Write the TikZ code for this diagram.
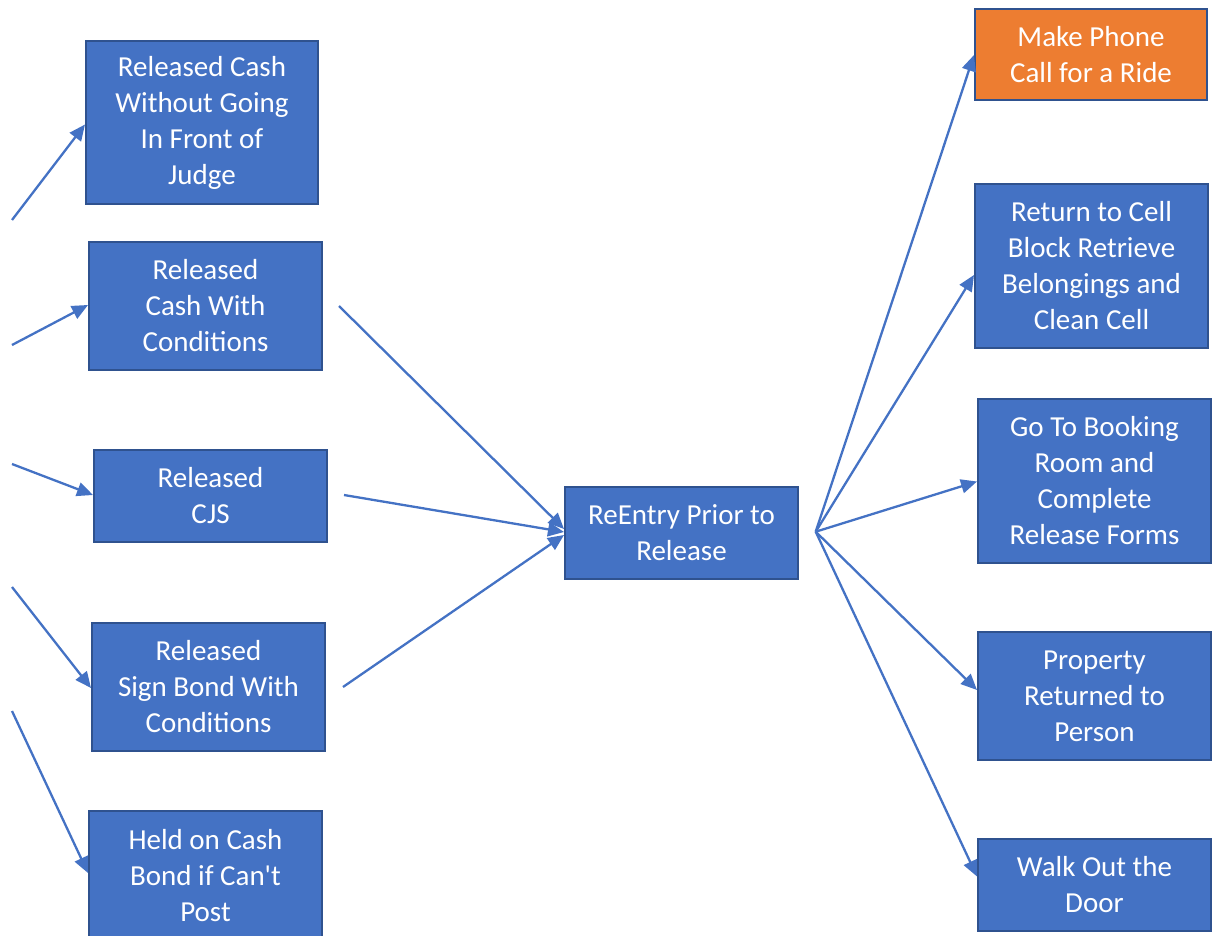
\documentclass[tikz,border=0pt]{standalone}
\usepackage{fontspec}
\setmainfont{Carlito}
\newfontfamily\rawfont{Carlito}
\usetikzlibrary{arrows.meta,calc}
\definecolor{boxblue}{HTML}{4472C4}
\definecolor{boxedge}{HTML}{2F528F}
\definecolor{boxorange}{HTML}{ED7D31}
\begin{document}
\begin{tikzpicture}[x=1pt,y=-1pt,
  box/.style={draw=boxedge, line width=2pt, fill=boxblue, text=white, inner sep=0pt,
    align=center, font=\fontsize{29}{36}\selectfont},
  obox/.style={box, fill=boxorange},
  conn/.style={draw=boxblue, line width=2.3pt, -{Triangle[length=16pt,width=14pt]}}]
\useasboundingbox (0,0) rectangle (1215,936);
% left column
\node[box, minimum width=232pt, minimum height=163pt] (b1) at (202,123) {Released Cash\\Without Going\\In Front of\\Judge};
\node[box, minimum width=233pt, minimum height=128pt] (b2) at (205.5,306) {Released\\Cash With\\Conditions};
\node[box, minimum width=233pt, minimum height=92pt] (b3) at (210.5,496) {Released\\CJS};
\node[box, minimum width=233pt, minimum height=128pt] (b4) at (208.5,687) {Released\\Sign Bond With\\Conditions};
\node[box, minimum width=233pt, minimum height=130pt] (b5) at (205.5,876) {Held on Cash\\Bond if Can{\rawfont\fontsize{29}{36}\selectfont '}t\\Post};
% centre
\node[box, minimum width=233pt, minimum height=92pt] (re) at (681.5,533) {ReEntry Prior to\\Release};
% right column
\node[obox, minimum width=232pt, minimum height=91pt] (r1) at (1091,54.5) {Make Phone\\Call for a Ride};
\node[box, minimum width=233pt, minimum height=164pt] (r2) at (1091.5,266) {Return to Cell\\Block Retrieve\\Belongings and\\Clean Cell};
\node[box, minimum width=233pt, minimum height=164pt] (r3) at (1094.5,481) {Go To Booking\\Room and\\Complete\\Release Forms};
\node[box, minimum width=233pt, minimum height=128pt] (r4) at (1094.5,696) {Property\\Returned to\\Person};
\node[box, minimum width=233pt, minimum height=92pt] (r5) at (1094.5,884.5) {Walk Out the\\Door};
% free ends
\coordinate (s1) at (12,220);
\coordinate (s2) at (12,345);
\coordinate (s3) at (12,464);
\coordinate (s4) at (12,587);
\coordinate (s5) at (12,711);
\coordinate (m2) at (339,306);
\coordinate (m3) at (344,495);
\coordinate (m4) at (343,687);
\coordinate (hub) at (815.7,531.7);
% connectors
\draw[conn] (s1) -- ($(b1.west)+(0,1.5)$);
\draw[conn] (s2) -- ($(b2.west)+(0,-1)$);
\draw[conn] (s3) -- ($(b3.west)+(0,-1)$);
\draw[conn] (s4) -- ($(b4.west)+(0,1)$);
\draw[conn] (s5) -- ($(b5.west)+(0,-3)$);
\draw[conn] (m2) -- ($(re.west)+(0,-4)$);
\draw[conn] (m3) -- ($(re.west)+(0,-1)$);
\draw[conn] (m4) -- ($(re.west)+(0,2)$);
\draw[conn] (hub) -- ($(r1.west)+(0,0.5)$);
\draw[conn] (hub) -- ($(r2.west)+(0,9)$);
\draw[conn] (hub) -- ($(r3.west)+(0,0.5)$);
\draw[conn] (hub) -- ($(r4.west)+(0,-6)$);
\draw[conn] (hub) -- ($(r5.west)+(0,-8)$);
\end{tikzpicture}
\end{document}
